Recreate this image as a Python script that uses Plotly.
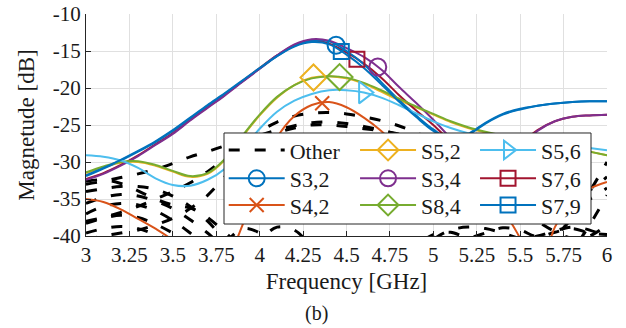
import numpy as np
import plotly.graph_objects as go

# ---------------- data ----------------
freq = [3.0, 3.1, 3.2, 3.3, 3.4, 3.5, 3.6, 3.7, 3.8, 3.9, 4.0, 4.1, 4.2, 4.3, 4.4, 4.5,
        4.6, 4.7, 4.8, 4.9, 5.0, 5.1, 5.2, 5.3, 5.4, 5.5, 5.6, 5.7, 5.8, 5.9, 6.0]

S3_2 = [-31.9, -30.9, -29.8, -28.6, -27.3, -25.8, -24.1, -22.4, -20.8, -19.1, -17.4, -15.7, -14.3, -13.6, -13.7, -15.0,
        -16.8, -19.2, -21.6, -23.7, -25.6, -26.9, -26.2, -24.7, -23.5, -22.8, -22.4, -22.1, -21.9, -21.8, -21.8]
S4_2 = [-35.0, -35.4, -36.4, -37.7, -39.0, -40.6, -43.0, -45.0, -43.5, -38.6, -31.5, -26.7, -23.8, -22.3, -21.9, -22.6,
        -24.0, -25.8, -28.0, -30.2, -32.2, -33.9, -35.1, -35.9, -36.8, -40.3, -45.0, -38.8, -35.3, -33.6, -32.7]
S5_2 = [-31.5, -30.7, -30.1, -30.0, -30.5, -31.3, -32.0, -31.6, -29.7, -26.6, -23.7, -21.3, -19.6, -18.6, -18.4, -18.7,
        -19.4, -20.5, -21.6, -22.6, -23.6, -24.6, -25.4, -26.0, -26.4, -26.8, -27.2, -27.6, -28.1, -28.6, -29.1]
S3_4 = [-32.4, -31.6, -30.5, -29.2, -27.7, -26.2, -24.4, -22.7, -21.0, -19.2, -17.4, -15.6, -14.1, -13.4, -13.6, -14.6,
        -15.8, -17.5, -19.8, -22.0, -24.3, -26.8, -29.2, -30.8, -30.2, -28.0, -25.8, -24.5, -23.9, -23.7, -23.6]
S8_4 = [-31.4, -30.6, -30.0, -29.9, -30.4, -31.2, -31.9, -31.5, -29.6, -26.5, -23.6, -21.2, -19.6, -18.7, -18.4, -18.6,
        -19.3, -20.3, -21.4, -22.5, -23.5, -24.5, -25.3, -25.9, -26.4, -26.8, -27.2, -27.6, -28.1, -28.6, -29.1]
S5_6 = [-29.1, -29.3, -29.8, -30.8, -32.2, -33.1, -33.2, -32.4, -30.9, -28.3, -25.5, -23.2, -21.7, -20.8, -20.3, -20.3,
        -20.6, -21.3, -22.3, -23.4, -24.5, -25.4, -26.1, -26.6, -26.9, -27.1, -27.3, -27.5, -27.8, -28.1, -28.4]
S7_6 = [-32.3, -31.5, -30.4, -29.1, -27.6, -26.1, -24.3, -22.6, -20.9, -19.1, -17.3, -15.6, -14.2, -13.6, -14.0, -15.2,
        -16.7, -18.6, -20.9, -23.0, -25.0, -27.2, -29.0, -30.2, -29.6, -27.6, -25.7, -24.5, -23.9, -23.7, -23.6]
S7_9 = [-31.8, -30.8, -29.7, -28.5, -27.2, -25.7, -24.0, -22.3, -20.7, -19.0, -17.3, -15.7, -14.4, -13.8, -14.1, -15.5,
        -17.3, -19.5, -21.8, -23.9, -25.8, -27.0, -26.3, -24.8, -23.6, -22.9, -22.4, -22.1, -21.9, -21.8, -21.8]

# "Other" couplings (black dashed)
other_1 = [-33.0, -32.6, -32.1, -31.6, -31.0, -30.2, -29.3, -28.6, -27.8, -27.1, -26.4, -25.7, -25.1, -24.7, -24.6, -24.8,
           -25.2, -25.7, -26.3, -27.2, -28.3, -29.5, -30.8, -32.0, -33.0, -33.8, -34.4, -34.7, -34.6, -33.8, -32.0]
other_2 = [-38.0, -37.5, -36.8, -36.0, -35.0, -34.0, -32.8, -31.3, -29.5, -27.6, -25.9, -24.6, -23.8, -23.4, -23.3, -23.5,
           -23.9, -24.4, -25.1, -26.0, -27.2, -28.6, -30.1, -31.6, -33.0, -34.2, -35.2, -35.8, -35.9, -35.0, -33.5]
other_3 = [-40.5, -40.0, -39.6, -39.2, -38.5, -37.6, -36.3, -34.5, -32.0, -29.5, -27.4, -26.1, -25.4, -25.0, -25.0, -25.2,
           -25.5, -25.8, -26.2, -26.8, -27.8, -29.0, -30.6, -32.4, -34.3, -36.2, -38.0, -39.4, -40.3, -40.0, -38.5]
other_4 = [-34.0, -33.6, -33.3, -33.3, -33.7, -34.6, -36.0, -38.0, -40.5, -42.5, -43.5, -44.0, -45.0, -45.0, -45.0, -45.0,
           -45.0, -45.0, -45.0, -43.0, -40.5, -39.2, -38.8, -39.0, -39.6, -40.3, -40.0, -39.3, -38.8, -39.2, -40.2]
other_5 = [-35.6, -34.8, -34.4, -34.6, -35.3, -36.3, -37.8, -39.6, -41.5, -42.0, -40.5, -38.8, -39.2, -41.5, -44.0, -46.0,
           -46.0, -46.0, -46.0, -46.0, -46.0, -46.0, -46.0, -46.0, -46.0, -46.0, -43.0, -40.2, -37.5, -34.0, -30.0]
other_6 = [-37.0, -36.0, -35.6, -35.8, -36.6, -37.9, -39.6, -41.5, -40.8, -39.0, -39.6, -42.0, -44.0, -45.0, -45.0, -45.0,
           -45.0, -45.0, -45.0, -45.0, -45.0, -45.0, -45.0, -45.0, -45.0, -45.0, -45.0, -45.0, -42.0, -38.5, -34.5]
other_7 = [-38.3, -37.6, -37.2, -37.5, -38.4, -39.6, -41.0, -42.0, -44.0, -44.0, -44.0, -44.0, -44.0, -44.0, -44.0, -44.0,
           -44.0, -44.0, -44.0, -41.5, -39.8, -39.5, -40.2, -39.6, -38.9, -39.2, -40.1, -39.5, -39.0, -39.6, -39.8]
other_8 = [-39.6, -39.0, -38.7, -39.0, -39.8, -40.8, -43.0, -44.0, -44.0, -44.0, -44.0, -44.0, -44.0, -44.0, -44.0, -44.0,
           -44.0, -44.0, -44.0, -44.0, -44.0, -44.0, -44.0, -44.0, -44.0, -44.0, -44.0, -44.0, -44.0, -44.0, -44.0]
other_9 = [-32.6, -32.4, -32.9, -33.9, -35.0, -35.8, -36.2, -37.5, -39.5, -41.5, -43.0, -44.0, -44.0, -44.0, -44.0, -44.0,
           -44.0, -44.0, -44.0, -44.0, -44.0, -44.0, -44.0, -44.0, -44.0, -44.0, -44.0, -44.0, -44.0, -44.0, -44.0]

series_names = ["S3,2", "S4,2", "S5,2", "S3,4", "S8,4", "S5,6", "S7,6", "S7,9"]
series_values = [S3_2, S4_2, S5_2, S3_4, S8_4, S5_6, S7_6, S7_9]
marker_freqs = [4.44, 4.36, 4.31, 4.68, 4.46, 4.60, 4.56, 4.47]
other_values = [other_1, other_2, other_3, other_4, other_5, other_6, other_7, other_8, other_9]

x_tickvals = [3, 3.25, 3.5, 3.75, 4, 4.25, 4.5, 4.75, 5, 5.25, 5.5, 5.75, 6]
x_ticktext = ["3", "3.25", "3.5", "3.75", "4", "4.25", "4.5", "4.75", "5", "5.25", "5.5", "5.75", "6"]
y_tickvals = [-40, -35, -30, -25, -20, -15, -10]
y_ticktext = ["-40", "-35", "-30", "-25", "-20", "-15", "-10"]

# ---------------- styles ----------------
FONT = "Liberation Serif"
TXT = "#1a1a1a"
style = {
    "S3,2": dict(color="#0072BD", symbol="circle-open", size=17),
    "S4,2": dict(color="#D95319", symbol="x-thin-open", size=14),
    "S5,2": dict(color="#EDB120", symbol="diamond-open", size=20),
    "S3,4": dict(color="#7E2F8E", symbol="circle-open", size=17),
    "S8,4": dict(color="#77AC30", symbol="diamond-open", size=20),
    "S5,6": dict(color="#4DBEEE", symbol="triangle-right-open", size=19),
    "S7,6": dict(color="#A2142F", symbol="square-open", size=15),
    "S7,9": dict(color="#0072BD", symbol="square-open", size=15),
}
# legend grid: column-major order as in the reference
legend_entries = ["Other", "S3,2", "S4,2", "S5,2", "S3,4", "S8,4", "S5,6", "S7,6", "S7,9"]
legend_ids = ["legend"] + ["legend%d" % k for k in range(2, 10)]
legend_id = dict(zip(legend_entries, legend_ids))
col_x = [0.2643, 0.5164, 0.7467]
row_y = [0.4811, 0.3536, 0.2333]

# drawing order (later = on top)
draw_order = ["S5,2", "S7,6", "S3,2", "S4,2", "S3,4", "S8,4", "S5,6", "S7,9"]

fig = go.Figure()

for i, vals in enumerate(other_values):
    fig.add_trace(go.Scatter(
        x=freq, y=vals, mode="lines", name="Other",
        line=dict(color="black", width=3, dash="11px,15px", shape="spline"),
        showlegend=(i == 0), legend=legend_id["Other"], hoverinfo="skip"))

data_of = dict(zip(series_names, series_values))
mf_of = dict(zip(series_names, marker_freqs))
for name in draw_order:
    vals, st = data_of[name], style[name]
    fig.add_trace(go.Scatter(
        x=freq, y=vals, mode="lines", name=name,
        line=dict(color=st["color"], width=2, shape="spline"),
        showlegend=False, hoverinfo="skip"))
for name in draw_order:
    vals, mf, st = data_of[name], mf_of[name], style[name]
    fig.add_trace(go.Scatter(
        x=[mf], y=[float(np.interp(mf, freq, vals))], mode="lines+markers", name=name,
        legend=legend_id[name],
        line=dict(color=st["color"], width=2),
        marker=dict(symbol=st["symbol"], size=st["size"], color=st["color"],
                    line=dict(color=st["color"], width=2)),
        hoverinfo="skip"))

axis_common = dict(
    automargin=False,
    showline=True, linecolor="#262626", linewidth=1, mirror=False,
    ticks="inside", ticklen=5, tickwidth=1, tickcolor="#262626",
    showgrid=True, gridcolor="#e0e0e0", gridwidth=1, zeroline=False,
    tickfont=dict(family=FONT, size=21, color=TXT),
)

fig.update_layout(
    width=626, height=328,
    margin=dict(l=86, r=19, t=14, b=92, autoexpand=False),
    paper_bgcolor="white", plot_bgcolor="white",
    font=dict(family=FONT, color=TXT),
    xaxis=dict(range=[3, 6], tickvals=x_tickvals, ticktext=x_ticktext,
               title=dict(text="Frequency [GHz]", font=dict(family=FONT, size=23, color=TXT), standoff=6),
               **axis_common),
    yaxis=dict(range=[-40, -10], tickvals=y_tickvals, ticktext=y_ticktext,
               title=dict(text="Magnetude [dB]", font=dict(family=FONT, size=23, color=TXT), standoff=11),
               **axis_common),
    shapes=[dict(type="rect", xref="paper", yref="paper", x0=0.2649, x1=0.9693, y0=0.054, y1=0.464,
                 line=dict(color="#262626", width=1), fillcolor="white", layer="above")],
    annotations=[dict(text="(b)", xref="paper", yref="paper", x=0.4415, y=-0.347,
                      xanchor="center", yanchor="middle", showarrow=False,
                      font=dict(family=FONT, size=20, color=TXT))],
)

leg_common = dict(bgcolor="rgba(0,0,0,0)", borderwidth=0, orientation="v",
                  font=dict(family=FONT, size=22, color=TXT), itemwidth=56,
                  xanchor="left", yanchor="top", yref="paper", xref="paper")
legends = {}
for k, entry in enumerate(legend_entries):
    legends[legend_ids[k]] = dict(x=col_x[k // 3], y=row_y[k % 3], **leg_common)
fig.update_layout(**legends)

# remove the browser's default 8 px body margin so the figure fills the window
fig.write_html("out.html", config={"displayModeBar": False},
               post_script="document.body.style.margin='0';")
